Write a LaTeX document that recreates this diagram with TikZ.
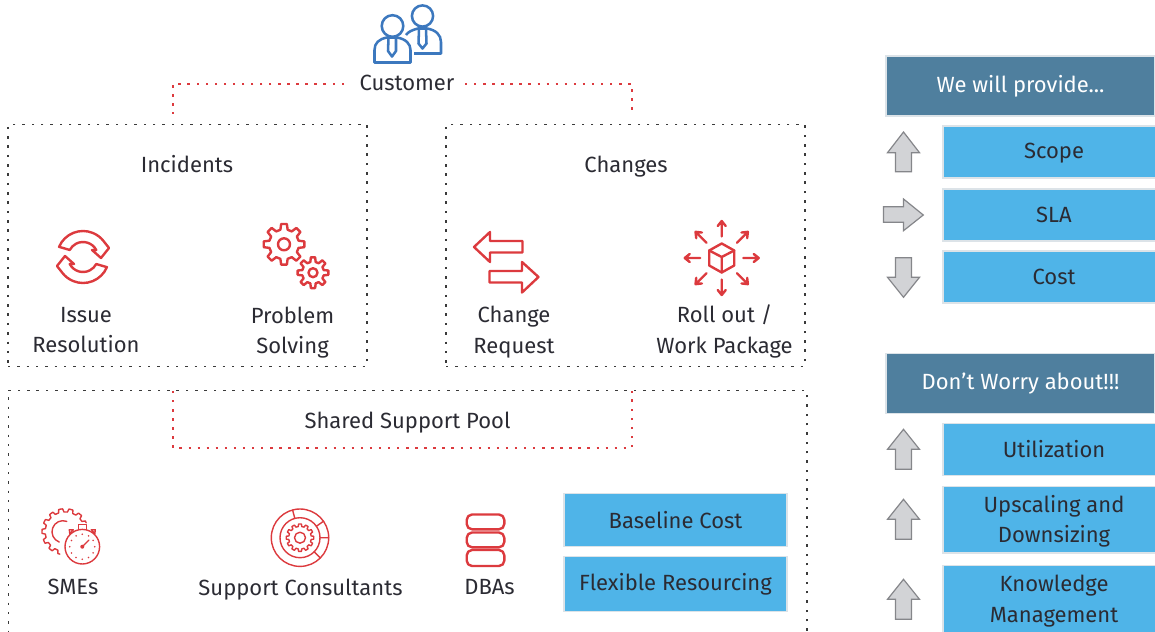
\documentclass[tikz,border=0pt]{standalone}
\usepackage{fontspec}
\setmainfont{Fira Sans}
\definecolor{ink}{HTML}{2B2B33}
\definecolor{dots}{HTML}{3A3A3A}
\definecolor{redline}{HTML}{DC3A3E}
\definecolor{teal}{HTML}{4F7F9E}
\definecolor{sky}{HTML}{4FB4E8}
\definecolor{edge}{HTML}{DCE3E8}
\definecolor{bluei}{HTML}{3C78BE}
\definecolor{arrowfill}{HTML}{D2D3D6}
\definecolor{arrowline}{HTML}{85868A}
\tikzset{
  x=0.75pt,y=-0.75pt,
  bodyfont/.style={font=\fontsize{16.5}{23}\selectfont,align=center,inner sep=0pt,
    execute at begin node=\strut,execute at end node=\strut},
  txt/.style={bodyfont,text=ink},
  frame/.style={draw=dots,line width=1pt,dash pattern=on 1.8pt off 5.2pt,inner sep=0pt},
  link/.style={draw=redline,line width=0.85pt,dash pattern=on 1.8pt off 5pt},
  head/.style={bodyfont,fill=teal,draw=edge,line width=1pt,text=white},
  item/.style={bodyfont,fill=sky,draw=edge,line width=1pt,text=ink},
  icon/.style={draw=redline,line width=1.8pt,line join=round,line cap=round},
  thin icon/.style={draw=redline,line width=1.05pt,line join=round,line cap=round},
  person/.style={draw=bluei,line width=1.9pt,line join=round},
  grey/.style={fill=arrowfill,draw=arrowline,line width=0.9pt},
}
\newcommand{\uparr}[1]{\draw[grey,shift={(#1)}] (0,-20) -- (16,0) -- (8,0) -- (8,20) -- (-8,20) -- (-8,0) -- (-16,0) -- cycle;}
\newcommand{\dn}[2][1.3pt]{\strut\raisebox{-#1}[0pt][0pt]{#2}}
\begin{document}
\begin{tikzpicture}
\useasboundingbox (0,0) rectangle (1155,631);
\clip (0,0) rectangle (1155,631);
% dotted frames
\node[frame,minimum width=269.25pt,minimum height=181pt] (incidents) at (187.5,245.5) {};
\node[frame,minimum width=269.25pt,minimum height=181pt] (changes) at (625.5,245.5) {};
\node[frame,minimum width=599pt,minimum height=260pt] (pool) at (407.5,564) {};
% customer icon
\draw[person] (422.5,16) circle (10.6);
\draw[person] (392.5,26) circle (10.8);
\draw[person] (406,35) .. controls (408,32) and (412,30) .. (418,28.5) -- (427,28.5) .. controls (436,30) and (441,35) .. (441,42) -- (441,53.5) -- (414,53.5);
\draw[person] (374.5,62.5) -- (374.5,50) .. controls (374.5,43) and (379,39) .. (387,37.5) -- (397,37.5) .. controls (406,39) and (410.5,44) .. (410.5,50) -- (410.5,62.5) -- cycle;
\draw[person] (388.5,38) -- (388,51) -- (392,56.5) -- (396,51) -- (396,38);
\draw[person] (419,29) -- (418.5,43.5) -- (422.5,48.5) -- (426.5,43.5) -- (426,29);
\node[txt] (customer) at (407,84.5) {Customer};
\coordinate (cl) at (173,114);
\coordinate (cr) at (632,114);
\coordinate (cwest) at (344,84);
\coordinate (ceast) at (465,84);
\draw[link] (cwest) -| (cl);
\draw[link] (ceast) -| (cr);
\node[txt] (inc) at (187,166) {Incidents};
\node[txt] (chg) at (626,166) {Changes};
% refresh icon
\begin{scope}[shift={(83,257)}]
 \draw[icon] (-157:26) arc (-157:-38:26) -- (26,-9) -- (18,1) -- (9,-7) -- (-28:15) arc (-28:-152:15) -- cycle;
 \draw[icon] (23:26) arc (23:142:26) -- (-26,9) -- (-18,-1) -- (-9,7) -- (152:15) arc (152:28:15) -- cycle;
\end{scope}
% gears
\foreach \cx/\cy/\ro/\ri/\rh in {284/244.3/20.5/15/6,313/272.7/15.5/11/4.5}{
 \begin{scope}[shift={(\cx,\cy)}]
  \draw[icon] (-8:\ro)
   \foreach \i in {0,...,7}{ -- (45*\i+8:\ro) -- (45*\i+14:\ri) -- (45*\i+31:\ri) -- (45*\i+37:\ro)} -- cycle;
  \draw[icon] (0,0) circle (\rh);
 \end{scope}
}
\node[txt] (issue) at (86,334.5) {Issue\\Resolution};
\node[txt] (prob) at (292.5,335) {Problem\\Solving};
% change arrows
\draw[icon] (474,247) -- (490,232) -- (490,241) -- (522.5,241) -- (522.5,252.5) -- (490,252.5) -- (490,262) -- cycle;
\draw[icon] (538.5,277) -- (522,292.5) -- (522,282.5) -- (489.5,282.5) -- (489.5,271) -- (522,271) -- (522,262) -- cycle;
% rollout
\begin{scope}[shift={(721.7,258)}]
 \draw[icon] (0,-14.5) -- (12.5,-7.5) -- (12.5,7.5) -- (0,14.5) -- (-12.5,7.5) -- (-12.5,-7.5) -- cycle;
 \draw[icon] (-12.5,-7.5) -- (0,-1) -- (12.5,-7.5) (0,-1) -- (0,14.5);
 \foreach \a in {0,45,...,315}{
  \begin{scope}[rotate=\a]
   \draw[icon] (21.5,0) -- (37,0) (32,-4) -- (37,0) -- (32,4);
  \end{scope}}
\end{scope}
\node[txt] (cr1) at (514,334.5) {Change\\Request};
\node[txt] (roll) at (724.5,334) {Roll out /\\Work Package};
% shared pool
\node[txt] (spool) at (407.5,422) {Shared Support Pool};
\coordinate (pl) at (173,391);
\coordinate (pr) at (632,391);
\coordinate (pb) at (407,448);
\draw[link] (pl) -- (pl |- pb) -- (pr |- pb) -- (pr);
% SMEs icon
\begin{scope}[shift={(65,531.7)}]
 \draw[thin icon] (-23:23)
  \foreach \a in {0,...,8}{ -- (-23-26*\a-5:23) -- (-23-26*\a-8:19.8) -- (-23-26*\a-18:19.8) -- (-23-26*\a-21:23) -- (-23-26*\a-26:23)};
 \draw[thin icon] (-2,0) ++(-70:11) arc (-70:-250:11);
\end{scope}
\begin{scope}[shift={(82.3,546.7)}]
 \fill[white] (0,0) circle (17.3);
 \draw[thin icon] (0,0) circle (17.3);
 \draw[thin icon] (-4,-17.3) -- (-4,-22) -- (4,-22) -- (4,-17.3);
 \draw[thin icon] (-12.5,-13) -- (-13,-17) -- (-9,-17) -- cycle;
 \draw[thin icon] (12.5,-13) -- (13,-17) -- (9,-17) -- cycle;
 \fill[redline] (0,0) circle (2);
 \draw[thin icon] (0,0) -- (6.5,-6.5);
 \foreach \a in {0,30,...,330}{\fill[redline] (\a:12.5) circle (0.9);}
\end{scope}
\node[txt] (smes) at (73,588.5) {SMEs};
% consultants icon
\begin{scope}[shift={(300,537.7)}]
 \draw[thin icon] (0,0) circle (28.7);
 \draw[thin icon] (0,0) circle (20);
 \draw[thin icon] (-105:20) -- (-105:28.7) (-35:20) -- (-35:28.7) (0:20) -- (0:28.7) (45:20) -- (45:28.7);
 \draw[thin icon] (0,0) circle (5.5);
 \draw[thin icon] (-6:13.8)
  \foreach \i in {0,...,11}{ -- (30*\i+6:13.8) -- (30*\i+9:11.3) -- (30*\i+21:11.3) -- (30*\i+24:13.8)} -- cycle;
\end{scope}
\node[txt] (sup) at (300.5,589) {Support Consultants};
% DBAs
\draw[icon,rounded corners=4pt] (466.7,514.5) rectangle (504.3,529.3);
\draw[icon,rounded corners=4pt] (466.7,532.5) rectangle (504.3,547.3);
\draw[icon,rounded corners=4pt] (466.7,550) rectangle (504.3,566);
\node[txt] (dbas) at (489.5,588.5) {DBAs};
% blue boxes
\node[item,minimum width=167.25pt,minimum height=39.5pt] (base) at (675.5,520) {\dn[2pt]{Baseline Cost}};
\node[item,minimum width=167.25pt,minimum height=41.5pt] (flex) at (675.5,584) {Flexible Resourcing};
% right column
\node[head,minimum width=201.75pt,minimum height=45pt] (prov) at (1020.5,86) {We will provide...};
\node[item,minimum width=166.5pt,minimum height=39pt] (scope) at (1054,152) {Scope};
\node[item,minimum width=166.5pt,minimum height=39pt] (sla) at (1054,215) {\dn{SLA}};
\node[item,minimum width=166.5pt,minimum height=39pt] (cost) at (1054,277) {\dn{Cost}};
\node[head,minimum width=201.75pt,minimum height=45pt] (dont) at (1020.5,383.5) {Don\symbol{39}t Worry about!!!};
\node[item,minimum width=166.5pt,minimum height=39pt] (util) at (1054,449.5) {\dn{Utilization}};
\node[item,minimum width=166.5pt,minimum height=50pt] (up) at (1054,519.5) {\dn{Upscaling and}\\\dn{Downsizing}};
\node[item,minimum width=166.5pt,minimum height=50pt] (km) at (1054,599) {\dn{Knowledge}\\\dn{Management}};
% grey arrows
\draw[grey,shift={(903.5,152.7)}] (0,-20.7) -- (16,0) -- (8,0) -- (8,19) -- (-8,19) -- (-8,0) -- (-16,0) -- cycle;
\draw[grey] (883.5,206.7) -- (903.5,206.7) -- (903.5,199) -- (923.3,215) -- (903.5,230.7) -- (903.5,222.3) -- (883.5,222.3) -- cycle;
\draw[grey,shift={(903.5,277.3)}] (0,20) -- (16,0) -- (8,0) -- (8,-19.5) -- (-8,-19.5) -- (-8,0) -- (-16,0) -- cycle;
\uparr{903.5,449.3}
\uparr{903.5,519.3}
\uparr{903.5,599.3}
\end{tikzpicture}
\end{document}
